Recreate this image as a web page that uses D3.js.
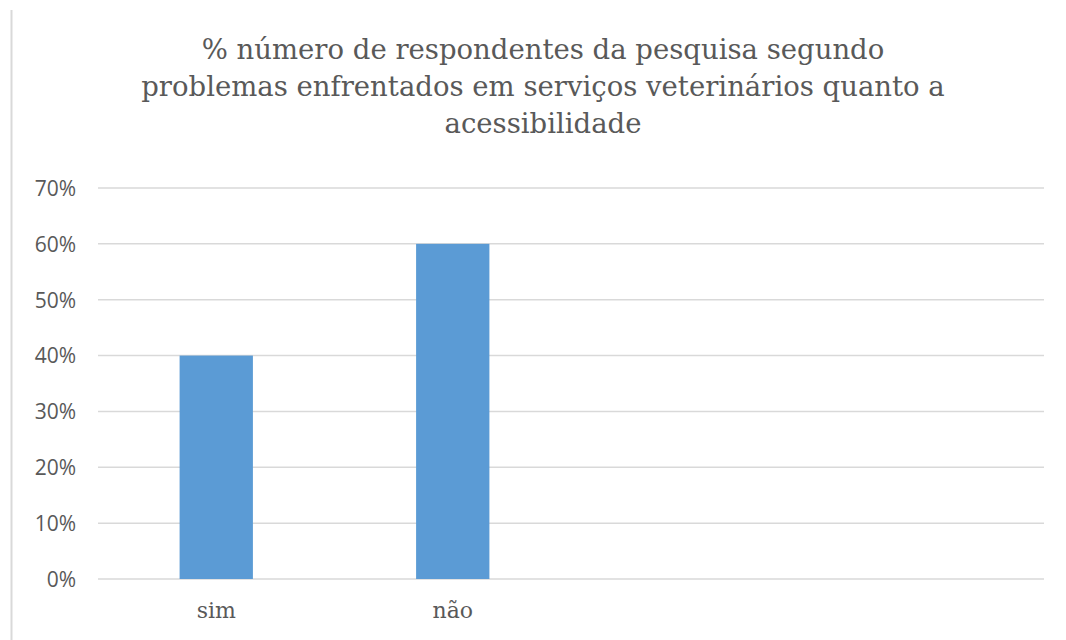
<!DOCTYPE html>
<html>
<head>
<meta charset="utf-8">
<script src="https://cdn.jsdelivr.net/npm/d3@7"></script>
<style>
  body { margin: 0; background: #fff; }
</style>
</head>
<body>
<div id="chart"></div>
<script>
// data
var categories = ["sim", "não", "", " "];
var values = [0.40, 0.60, null, null];
var yTicks = [0, 0.1, 0.2, 0.3, 0.4, 0.5, 0.6, 0.7];
var titleLines = [
  "% número de respondentes da pesquisa segundo",
  "problemas enfrentados em serviços veterinários quanto a",
  "acessibilidade"
];

// svg dims
var width = 1066;
var height = 640;
var plotLeft = 98, plotRight = 1044, plotTop = 188, plotBottom = 579;

var svg = d3.select("#chart")
            .append("svg")
            .attr("width", width)
            .attr("height", height);

// chart border (only the left edge shows in the picture)
svg.append("line")
   .attr("x1", 11.5).attr("x2", 11.5)
   .attr("y1", 10).attr("y2", height)
   .attr("stroke", "#d9d9d9")
   .attr("stroke-width", 2);

// scales
var xScale = d3.scaleBand()
               .domain(categories)
               .range([plotLeft, plotRight])
               .paddingInner(0.69)
               .paddingOuter(0.345);
var yScale = d3.scaleLinear()
               .domain([0, 0.7])
               .range([plotBottom, plotTop]);

// gridlines
svg.append("g")
   .selectAll("line")
   .data(yTicks)
   .enter()
   .append("line")
   .attr("x1", plotLeft)
   .attr("x2", plotRight)
   .attr("y1", d => yScale(d))
   .attr("y2", d => yScale(d))
   .attr("stroke", "#d9d9d9")
   .attr("stroke-width", 1.5);

// y axis labels
var yAxis = d3.axisLeft(yScale)
              .tickValues(yTicks)
              .tickFormat(d3.format(".0%"))
              .tickSize(0)
              .tickPadding(22);
var yG = svg.append("g")
            .attr("transform", `translate(${plotLeft}, 0)`)
            .call(yAxis);
yG.select(".domain").remove();
yG.selectAll("text")
  .attr("fill", "#595959")
  .style("font-family", "'Open Sans', sans-serif")
  .style("font-size", "21px")
  .attr("dy", "0.35em");

// bars
svg.append("g")
   .selectAll("rect")
   .data(values.map((v, i) => ({cat: categories[i], v: v})).filter(d => d.v != null))
   .enter()
   .append("rect")
   .attr("x", d => xScale(d.cat))
   .attr("y", d => yScale(d.v))
   .attr("width", xScale.bandwidth())
   .attr("height", d => yScale(0) - yScale(d.v))
   .attr("fill", "#5b9bd5");

// x axis labels
var xAxis = d3.axisBottom(xScale)
              .tickSize(0)
              .tickPadding(23);
var xG = svg.append("g")
            .attr("transform", `translate(0, ${plotBottom})`)
            .call(xAxis);
xG.select(".domain").remove();
xG.selectAll("text")
  .attr("fill", "#595959")
  .style("font-family", "'DejaVu Serif', serif")
  .style("font-size", "22px");

// title
var title = svg.append("text")
               .attr("text-anchor", "middle")
               .attr("fill", "#595959")
               .style("font-family", "'DejaVu Serif', serif")
               .style("font-size", "27.5px");
title.selectAll("tspan")
     .data(titleLines)
     .enter()
     .append("tspan")
     .attr("x", 543)
     .attr("y", (d, i) => 59 + i * 37)
     .text(d => d);
</script>
</body>
</html>
